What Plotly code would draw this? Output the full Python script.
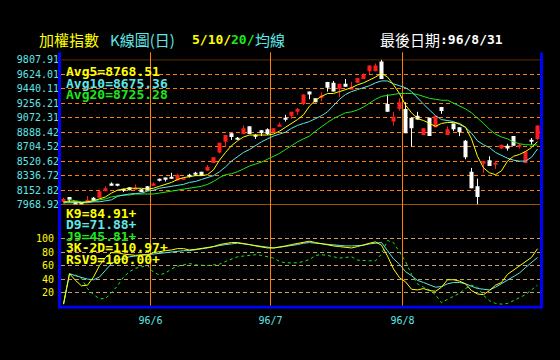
import plotly.graph_objects as go

W, H = 560, 360

# ---------------- data ----------------
open_ = [8005, 8067, 8005, 7987, 8005, 8055, 8055, 8140, 8238, 8226,
         8165, 8189, 8165, 8165, 8202, 8214, 8294, 8312, 8324, 8275,
         8288, 8349, 8373, 8386, 8398, 8496, 8631, 8766, 8876, 8815,
         8864, 8962, 8852, 8913, 8925, 8888, 8962, 9060, 9097, 9146,
         9244, 9403, 9317, 9330, 9526, 9514, 9440, 9501, 9440, 9514,
         9563, 9661, 9661, 9783, 9244, 9023, 9183, 9183, 9072, 9097,
         8852, 9072, 8950, 9207, 8852, 8999, 8950, 8778, 8386, 8202,
         8496, 8533, 8484, 8680, 8717, 8839, 8705, 8496, 8790, 8803]
high = [8055, 8067, 8005, 7993, 8079, 8067, 8140, 8202, 8251, 8232,
        8171, 8189, 8226, 8165, 8202, 8251, 8300, 8312, 8373, 8361,
        8312, 8361, 8386, 8386, 8472, 8570, 8753, 8852, 8876, 8827,
        8974, 8962, 8864, 8913, 8937, 8937, 9011, 9109, 9146, 9195,
        9366, 9403, 9317, 9391, 9526, 9538, 9501, 9563, 9526, 9575,
        9636, 9734, 9759, 9807.91, 9366, 9146, 9317, 9268, 9072, 9146,
        8937, 9072, 9097, 9207, 8962, 8999, 8950, 8790, 8435, 8300,
        8521, 8582, 8521, 8729, 8741, 8839, 8741, 8643, 8815, 8974]
low = [7993, 8005, 7975, 7972, 7999, 8005, 8055, 8140, 8214, 8202,
       8128, 8153, 8153, 8128, 8153, 8214, 8263, 8263, 8300, 8275,
       8288, 8312, 8337, 8337, 8398, 8496, 8619, 8705, 8790, 8790,
       8864, 8864, 8803, 8839, 8852, 8888, 8962, 9023, 9060, 9109,
       9232, 9305, 9268, 9281, 9403, 9403, 9330, 9465, 9440, 9514,
       9563, 9624, 9661, 9563, 9146, 8974, 9158, 8876, 8705, 9048,
       8852, 8839, 8950, 9121, 8852, 8901, 8839, 8545, 8177, 7968.92,
       8373, 8459, 8423, 8680, 8655, 8717, 8680, 8496, 8729, 8790]
close = [8042, 8030, 7981, 7975, 8030, 8018, 8140, 8177, 8214, 8214,
         8153, 8153, 8177, 8128, 8153, 8238, 8282, 8288, 8300, 8349,
         8306, 8324, 8361, 8337, 8447, 8570, 8753, 8852, 8827, 8803,
         8937, 8864, 8839, 8876, 8864, 8937, 8986, 9048, 9146, 9183,
         9366, 9366, 9268, 9354, 9452, 9403, 9501, 9465, 9458, 9575,
         9624, 9734, 9734, 9563, 9146, 9085, 9268, 8876, 8937, 9048,
         8937, 8839, 9097, 9158, 8925, 8925, 8888, 8570, 8177, 8067,
         8521, 8459, 8496, 8729, 8680, 8717, 8729, 8643, 8778, 8974]

ma5 = [8005, 8005, 8005, 7993, 8005, 8018, 8042, 8067, 8116, 8153,
       8165, 8177, 8177, 8177, 8165, 8177, 8202, 8226, 8251, 8288,
       8312, 8324, 8337, 8337, 8349, 8410, 8533, 8631, 8717, 8778,
       8827, 8852, 8852, 8852, 8852, 8864, 8901, 8950, 8999, 9048,
       9109, 9219, 9293, 9342, 9379, 9379, 9403, 9428, 9452, 9489,
       9514, 9550, 9587, 9636, 9587, 9489, 9379, 9232, 9134, 9060,
       9036, 8999, 8962, 8999, 9011, 9011, 8999, 8950, 8803, 8582,
       8435, 8373, 8349, 8398, 8521, 8582, 8606, 8643, 8692, 8768.51]
ma10 = [7993, 7993, 7993, 7993, 7993, 8005, 8005, 8018, 8030, 8075,
        8090, 8104, 8110, 8116, 8140, 8153, 8177, 8189, 8202, 8214,
        8226, 8251, 8263, 8288, 8312, 8337, 8386, 8447, 8521, 8582,
        8631, 8668, 8717, 8766, 8803, 8839, 8864, 8888, 8937, 8974,
        8999, 9023, 9060, 9097, 9146, 9232, 9305, 9366, 9403, 9428,
        9452, 9477, 9514, 9538, 9538, 9501, 9477, 9452, 9403, 9330,
        9244, 9170, 9097, 9048, 9036, 9023, 8986, 8950, 8876, 8778,
        8729, 8692, 8631, 8594, 8557, 8533, 8521, 8521, 8570, 8675.36]
ma20 = [7981, 8030, 8018, 8005, 8005, 8018, 8030, 8042, 8067, 8079,
        8091, 8091, 8104, 8104, 8104, 8104, 8116, 8128, 8140, 8153,
        8165, 8177, 8189, 8202, 8226, 8263, 8312, 8349, 8361, 8386,
        8423, 8459, 8484, 8508, 8545, 8582, 8619, 8668, 8717, 8766,
        8803, 8839, 8901, 8962, 9011, 9060, 9097, 9134, 9146, 9170,
        9207, 9256, 9305, 9342, 9354, 9366, 9379, 9379, 9379, 9366,
        9342, 9317, 9305, 9293, 9293, 9256, 9219, 9183, 9134, 9072,
        8999, 8925, 8864, 8827, 8803, 8766, 8741, 8729, 8729, 8725.28]

k9 = [3, 48, 38, 30, 31, 43, 60, 72, 79, 79,
      77, 76, 75, 76, 76, 79, 81, 82, 83, 85,
      85, 83, 84, 85, 86, 88, 91, 93, 94, 94,
      93, 91, 89, 87, 86, 86, 87, 89, 91, 93,
      95, 96, 94, 92, 91, 89, 88, 87, 86, 88,
      91, 93, 95, 90, 74, 55, 42, 36, 25, 24,
      26, 23, 22, 28, 39, 39, 37, 33, 23, 18,
      17, 23, 31, 35, 47, 53, 59, 65, 72, 84.91]
d9 = [3, 48, 45, 42, 40, 39, 43, 53, 63, 68,
      71, 73, 74, 75, 76, 77, 79, 80, 81, 81,
      82, 82, 83, 84, 86, 88, 90, 91, 92, 93,
      92, 91, 89, 88, 87, 86, 87, 88, 89, 91,
      93, 94, 93, 92, 91, 90, 89, 89, 89, 89,
      90, 92, 93, 94, 82, 70, 62, 51, 45, 38,
      35, 32, 28, 29, 33, 35, 35, 33, 30, 26,
      25, 24, 28, 33, 38, 43, 49, 57, 64, 71.88]
j9 = [3, 47, 46, 41, 26, 17, 11, 11, 20, 30,
      43, 51, 56, 58, 60, 50, 46, 49, 55, 59,
      61, 63, 61, 60, 60, 61, 62, 66, 70, 73,
      74, 75, 76, 75, 73, 71, 66, 64, 64, 64,
      66, 69, 75, 76, 75, 73, 71, 72, 73, 68,
      67, 67, 67, 77, 97, 94, 80, 66, 47, 33,
      28, 24, 17, 5, 10, 15, 19, 26, 31, 28,
      16, 8, 4, 3, 4, 8, 12, 17, 24, 31]

price_ticks = [9807.91, 9624.01, 9440.11, 9256.21, 9072.31, 8888.42,
               8704.52, 8520.62, 8336.72, 8152.82, 7968.92]
price_labels = ["9807.91", "9624.01", "9440.11", "9256.21", "9072.31", "8888.42",
                "8704.52", "8520.62", "8336.72", "8152.82", "7968.92"]
kd_ticks = [100, 80, 60, 40, 20]
kd_labels = ["100", "80", "60", "40", "20"]
month_pos = [14.5, 34.5, 56.5]          # boundaries between trading days
month_labels = ["96/6", "96/7", "96/8"]

# ---------------- styling ----------------
RED = "#ff1c1c"
WHITE = "#ffffff"
YEL = "#ffff00"
CYAN = "#5fe6e6"
GRN = "#1ee61e"
ORANGE = "#ff8000"
TAN = "#c8a064"
BLUE = "#0000ff"
MONO = "DejaVu Sans Mono"
CJK = "Noto Sans CJK TC"

n = len(close)
idx = list(range(n))

def px(x):
    return x / W

def py(y):
    return 1 - y / H

fig = go.Figure()

# wicks
for want_up, col in ((True, RED), (False, WHITE)):
    xs, ys = [], []
    for i in idx:
        if (close[i] > open_[i]) == want_up:
            xs += [i, i, None]
            ys += [low[i], high[i], None]
    fig.add_trace(go.Scatter(x=xs, y=ys, mode="lines", line=dict(color=col, width=1),
                             xaxis="x", yaxis="y", hoverinfo="skip"))

# bodies
for want_up, col in ((True, RED), (False, WHITE)):
    xs = [i for i in idx if (close[i] > open_[i]) == want_up]
    fig.add_trace(go.Bar(x=xs,
                         y=[abs(close[i] - open_[i]) for i in xs],
                         base=[min(close[i], open_[i]) for i in xs],
                         width=0.67, marker=dict(color=col, line=dict(width=0)),
                         xaxis="x", yaxis="y", hoverinfo="skip"))

# moving averages
for vals, col in ((ma20, GRN), (ma10, CYAN), (ma5, YEL)):
    fig.add_trace(go.Scatter(x=idx, y=vals, mode="lines", line=dict(color=col, width=1),
                             xaxis="x", yaxis="y", hoverinfo="skip"))

# KD panel
fig.add_trace(go.Scatter(x=idx, y=j9, mode="lines",
                         line=dict(color=GRN, width=1, dash="3px,3px"),
                         xaxis="x", yaxis="y2", hoverinfo="skip"))
fig.add_trace(go.Scatter(x=idx, y=d9, mode="lines", line=dict(color=CYAN, width=1),
                         xaxis="x", yaxis="y2", hoverinfo="skip"))
fig.add_trace(go.Scatter(x=idx, y=k9, mode="lines", line=dict(color=YEL, width=1),
                         xaxis="x", yaxis="y2", hoverinfo="skip"))

x_left = -2.5 / 6
x_right = x_left + 479 / 6

shapes = []
# solid orange frame lines of price panel
for v in (price_ticks[0], price_ticks[-1]):
    shapes.append(dict(type="line", xref="paper", x0=px(61), x1=px(540), yref="y",
                       y0=v, y1=v, line=dict(color=ORANGE, width=1), layer="above"))
# month separators
for m in month_pos:
    shapes.append(dict(type="line", xref="x", x0=m, x1=m, yref="paper",
                       y0=py(310), y1=py(48), line=dict(color=ORANGE, width=1), layer="below"))
# blue frame
shapes.append(dict(type="rect", xref="paper", yref="paper", x0=px(58), x1=px(61),
                   y0=py(313), y1=py(48), fillcolor=BLUE, line=dict(width=0), layer="above"))
shapes.append(dict(type="rect", xref="paper", yref="paper", x0=px(540), x1=px(543),
                   y0=py(313), y1=py(48), fillcolor=BLUE, line=dict(width=0), layer="above"))
shapes.append(dict(type="rect", xref="paper", yref="paper", x0=px(58), x1=px(543),
                   y0=py(313), y1=py(310), fillcolor=BLUE, line=dict(width=0), layer="above"))

ann = []

def text(x, y, s, color, family=MONO, size=13, weight="normal"):
    ann.append(dict(x=px(x), y=py(y), xref="paper", yref="paper", text=s,
                    showarrow=False, xanchor="left", yanchor="middle",
                    font=dict(family=family, size=size, color=color, weight=weight),
                    borderpad=0))

# header
text(38, 35, "加權指數", YEL, CJK, 15)
text(109, 35, "K線圖(日)", CYAN, CJK, 15)
text(191, 35, "5/10/", YEL, MONO, 13, "bold")
text(230, 35, "20/", GRN, MONO, 13, "bold")
text(254, 35, "均線", CYAN, CJK, 15)
text(379, 35, "最後日期", WHITE, CJK, 15)
text(439, 35, ":96/8/31", WHITE, MONO, 13, "bold")

# value legends
text(65, 68, "Avg5=8768.51", YEL, MONO, 13, "bold")
text(65, 80, "Avg10=8675.36", CYAN, MONO, 13, "bold")
text(65, 92, "Avg20=8725.28", GRN, MONO, 13, "bold")
text(65, 215, "K9=84.91+", YEL, MONO, 13, "bold")
text(65, 226.5, "D9=71.88+", CYAN, MONO, 13, "bold")
text(65, 238, "J9=45.81+", GRN, MONO, 13, "bold")
text(65, 250, "3K-2D=110.97+", YEL, MONO, 13, "bold")
text(65, 262.5, "RSV9=100.00+", YEL, MONO, 13, "bold")

fig.update_layout(
    width=W, height=H, autosize=False,
    margin=dict(l=0, r=0, t=0, b=0, pad=0),
    paper_bgcolor="black", plot_bgcolor="black",
    showlegend=False, hovermode=False, barmode="overlay",
    shapes=shapes, annotations=ann,
    xaxis=dict(domain=[px(61), px(540)], range=[x_left, x_right], anchor="y2",
               tickvals=month_pos, ticktext=month_labels, ticks="",
               ticklabelstandoff=7,
               tickfont=dict(family=MONO, size=10, color=CYAN),
               showgrid=False, zeroline=False, showline=False, fixedrange=True),
    yaxis=dict(domain=[py(205.5), py(55.5)], range=[price_ticks[-1], price_ticks[0]],
               tickvals=price_ticks, ticktext=price_labels, ticks="",
               ticklabelstandoff=1,
               tickfont=dict(family=MONO, size=10, color=CYAN),
               showgrid=True, gridcolor=ORANGE, gridwidth=1, griddash="4px,3px",
               zeroline=False, showline=False, fixedrange=True, anchor="x"),
    yaxis2=dict(domain=[py(310.5), py(206)], range=[0, (310.5 - 206) / 0.7],
                tickvals=kd_ticks, ticktext=kd_labels, ticks="",
                ticklabelstandoff=6,
                tickfont=dict(family=MONO, size=10, color=YEL),
                showgrid=True, gridcolor=TAN, gridwidth=1, griddash="4px,3px",
                zeroline=False, showline=False, fixedrange=True, anchor="x"),
)

fig.write_html("out.html")
